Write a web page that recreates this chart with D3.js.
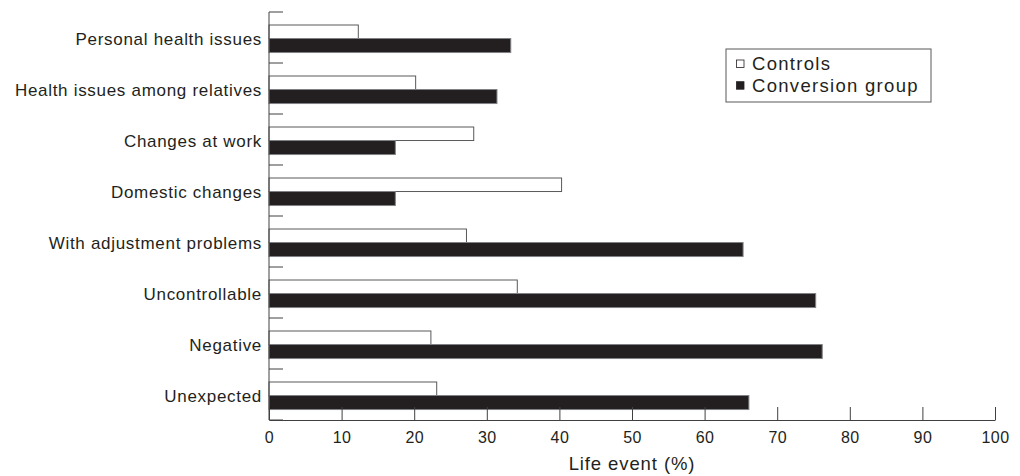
<!DOCTYPE html>
<html>
<head>
	<meta charset="utf-8">
	<title>Life events</title>
	<script src="https://cdn.jsdelivr.net/npm/d3@7/dist/d3.min.js"></script>
	<style>
		body { margin: 0; background: #fff; }
		text { font-family: "Liberation Sans", Arial, sans-serif; fill: #231f20; }
	</style>
</head>
<body>
<script>
	// data (percent)
	var categories = ["Personal health issues", "Health issues among relatives", "Changes at work",
		"Domestic changes", "With adjustment problems", "Uncontrollable", "Negative", "Unexpected"];
	var controls   = [12.3, 20.2, 28.2, 40.3, 27.2, 34.2, 22.3, 23.1];
	var conversion = [33.3, 31.4, 17.4, 17.4, 65.3, 75.3, 76.2, 66.1];
	var xTicks = [0, 10, 20, 30, 40, 50, 60, 70, 80, 90, 100];
	var seriesNames = ["Controls", "Conversion group"];

	var svgWidth = 1020,
	    svgHeight = 476;

	var svg = d3.select("body")
		.append("svg")
		.attr("width", svgWidth)
		.attr("height", svgHeight);

	var x = d3.scaleLinear()
		.domain([0, 100])
		.range([269, 995]);

	var y = d3.scaleBand()
		.domain(categories)
		.range([12, 420]);

	var bw = y.bandwidth();

	// bars
	var rows = categories.map(function(c, i) {
		return { cat: c, ctl: controls[i], conv: conversion[i] };
	});

	var g = svg.selectAll(".row")
		.data(rows)
		.enter().append("g")
		.attr("class", "row");

	g.append("rect")
		.attr("x", x(0))
		.attr("y", function(d) { return y(d.cat) + bw * 0.255; })
		.attr("width", function(d) { return x(d.ctl) - x(0); })
		.attr("height", bw * 0.265)
		.attr("fill", "#fff")
		.attr("stroke", "#58595b")
		.attr("stroke-width", 1);

	g.append("rect")
		.attr("x", x(0))
		.attr("y", function(d) { return y(d.cat) + bw * 0.52; })
		.attr("width", function(d) { return x(d.conv) - x(0); })
		.attr("height", bw * 0.275)
		.attr("fill", "#231f20")
		.attr("stroke", "#808285")
		.attr("stroke-width", 1);

	// category labels
	g.append("text")
		.attr("x", 262)
		.attr("y", function(d) { return y(d.cat) + bw * 0.647; })
		.attr("text-anchor", "end")
		.style("font-size", "17px")
		.style("letter-spacing", "0.7px")
		.text(function(d) { return d.cat; });

	// y axis line with band boundary ticks pointing inward
	svg.append("line")
		.attr("x1", x(0)).attr("x2", x(0))
		.attr("y1", y.range()[0]).attr("y2", y.range()[1])
		.attr("stroke", "#404041");

	var bounds = categories.map(function(c) { return y(c); }).concat([y.range()[1]]);
	svg.selectAll(".ytick")
		.data(bounds)
		.enter().append("line")
		.attr("class", "ytick")
		.attr("x1", x(0)).attr("x2", x(0) + 14)
		.attr("y1", function(d) { return d; })
		.attr("y2", function(d) { return d; })
		.attr("stroke", "#404041");

	// x axis
	var xAxis = d3.axisBottom(x)
		.tickValues(xTicks)
		.tickSizeInner(-13)
		.tickSizeOuter(0)
		.tickPadding(12);

	var ax = svg.append("g")
		.attr("transform", "translate(0," + y.range()[1] + ")")
		.call(xAxis);

	ax.selectAll("path, line").attr("stroke", "#404041");
	ax.selectAll("text")
		.style("font-family", "'Liberation Sans', Arial, sans-serif")
		.style("font-size", "16px")
		.style("letter-spacing", "0.4px")
		.attr("fill", "#231f20");

	svg.append("text")
		.attr("x", (x(0) + x(100)) / 2)
		.attr("y", 470)
		.attr("text-anchor", "middle")
		.style("font-size", "18.5px")
		.style("letter-spacing", "0.9px")
		.text("Life event (%)");

	// legend
	var legend = svg.append("g").attr("transform", "translate(726,49)");

	legend.append("rect")
		.attr("x", 0).attr("y", 0)
		.attr("width", 205).attr("height", 53)
		.attr("fill", "#fff")
		.attr("stroke", "#58595b");

	var li = legend.selectAll(".li")
		.data(seriesNames)
		.enter().append("g")
		.attr("class", "li")
		.attr("transform", function(d, i) { return "translate(0," + (21 + i * 21.7) + ")"; });

	li.append("rect")
		.attr("x", 10.5)
		.attr("y", -10)
		.attr("width", 7.5)
		.attr("height", 7.5)
		.attr("fill", function(d, i) { return i === 0 ? "#fff" : "#231f20"; })
		.attr("stroke", "#231f20")
		.attr("stroke-width", 0.8);

	li.append("text")
		.attr("x", 26)
		.attr("y", 0)
		.style("font-size", "18.5px")
		.style("letter-spacing", "1.3px")
		.text(function(d) { return d; });
</script>
</body>
</html>
